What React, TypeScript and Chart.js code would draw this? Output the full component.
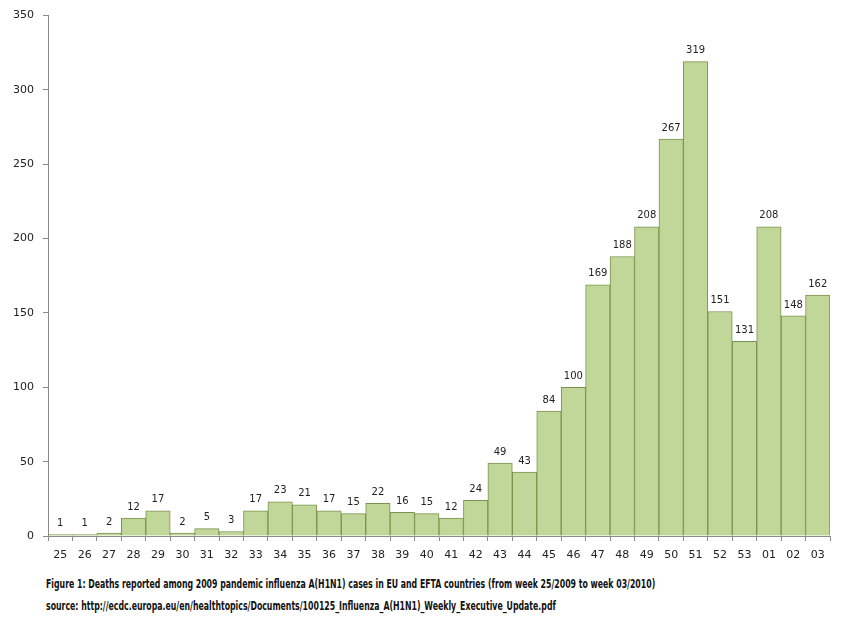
import { useEffect, useRef } from "react";
import { Chart, registerables } from "chart.js";

Chart.register(...registerables);

const weeks = [
  "25", "26", "27", "28", "29", "30", "31", "32", "33", "34", "35", "36", "37", "38", "39", "40",
  "41", "42", "43", "44", "45", "46", "47", "48", "49", "50", "51", "52", "53", "01", "02", "03",
];
const deaths = [
  1, 1, 2, 12, 17, 2, 5, 3, 17, 23, 21, 17, 15, 22, 16, 15,
  12, 24, 49, 43, 84, 100, 169, 188, 208, 267, 319, 151, 131, 208, 148, 162,
];
const yTicks = [0, 50, 100, 150, 200, 250, 300, 350];

const captionLines = [
  "Figure 1: Deaths reported among 2009 pandemic influenza A(H1N1) cases in EU and EFTA countries (from week 25/2009 to week 03/2010)",
  "source: http://ecdc.europa.eu/en/healthtopics/Documents/100125_Influenza_A(H1N1)_Weekly_Executive_Update.pdf",
];

// draws the value above each bar
const barValues = {
  id: "barValues",
  afterDatasetsDraw(chart: Chart) {
    const ctx = chart.ctx;
    const meta = chart.getDatasetMeta(0);
    ctx.save();
    ctx.font = "10px 'DejaVu Sans', sans-serif";
    ctx.fillStyle = "#222";
    ctx.textAlign = "center";
    ctx.textBaseline = "bottom";
    meta.data.forEach((bar: any, i: number) => {
      ctx.fillText(String(deaths[i]), bar.x, bar.y - 6);
    });
    ctx.restore();
  },
};

export default function App() {
  const chartRef = useRef<HTMLCanvasElement>(null);
  const chartInstance = useRef<Chart | null>(null);
  const captionRef = useRef<HTMLDivElement>(null);

  useEffect(() => {
    document.body.style.margin = "0";

    // squeeze the caption so the first line spans the same width as the original
    if (captionRef.current) {
      const first = captionRef.current.firstElementChild as HTMLElement | null;
      if (first) {
        const w = first.scrollWidth;
        if (w > 0) captionRef.current.style.transform = `scaleX(${609 / w})`;
      }
    }

    if (!chartRef.current) return;
    if (chartInstance.current) chartInstance.current.destroy();

    chartInstance.current = new Chart(chartRef.current, {
      type: "bar",
      data: {
        labels: weeks,
        datasets: [{
          data: deaths,
          backgroundColor: "#c1d799",
          borderColor: "#7a934c",
          borderWidth: 1,
          categoryPercentage: 1,
          barPercentage: 1,
        }],
      },
      options: {
        responsive: false,
        animation: false,
        layout: { padding: { top: 13, right: 12, left: 0, bottom: 0 } },
        plugins: {
          legend: { display: false },
          tooltip: { enabled: false },
        },
        scales: {
          x: {
            offset: true,
            grid: { offset: true, drawOnChartArea: false, tickLength: 5, color: "#8a8a8a" },
            border: { color: "#8a8a8a" },
            ticks: { color: "#222", font: { family: "'DejaVu Sans', sans-serif", size: 11 }, padding: 8, maxRotation: 0, autoSkip: false },
            afterFit: (scale: any) => { scale.height = 34; },
          },
          y: {
            min: 0,
            max: 350,
            afterBuildTicks: (scale: any) => { scale.ticks = yTicks.map((v) => ({ value: v })); },
            grid: { drawOnChartArea: false, tickLength: 5, color: "#8a8a8a" },
            border: { color: "#8a8a8a" },
            ticks: { color: "#222", font: { family: "'DejaVu Sans', sans-serif", size: 11 }, padding: 9 },
            afterFit: (scale: any) => { scale.width = 48; },
          },
        },
      },
      plugins: [barValues],
    });

    return () => {
      if (chartInstance.current) {
        chartInstance.current.destroy();
        chartInstance.current = null;
      }
    };
  }, []);

  return (
    <div style={{ position: "relative", width: 842, height: 625, background: "#fff", overflow: "hidden" }}>
      <canvas ref={chartRef} width={842} height={570} style={{ position: "absolute", left: 0, top: 0 }} />
      <div
        ref={captionRef}
        style={{
          position: "absolute",
          left: 46,
          top: 575,
          transformOrigin: "0 0",
          fontFamily: "'DejaVu Sans Condensed', 'DejaVu Sans', sans-serif",
          fontStretch: "condensed",
          fontWeight: "bold",
          fontSize: 12,
          color: "#111",
          whiteSpace: "nowrap",
        }}
      >
        {captionLines.map((line) => (
          <div key={line} style={{ height: 22, lineHeight: "18px", width: "max-content" }}>{line}</div>
        ))}
      </div>
    </div>
  );
}
